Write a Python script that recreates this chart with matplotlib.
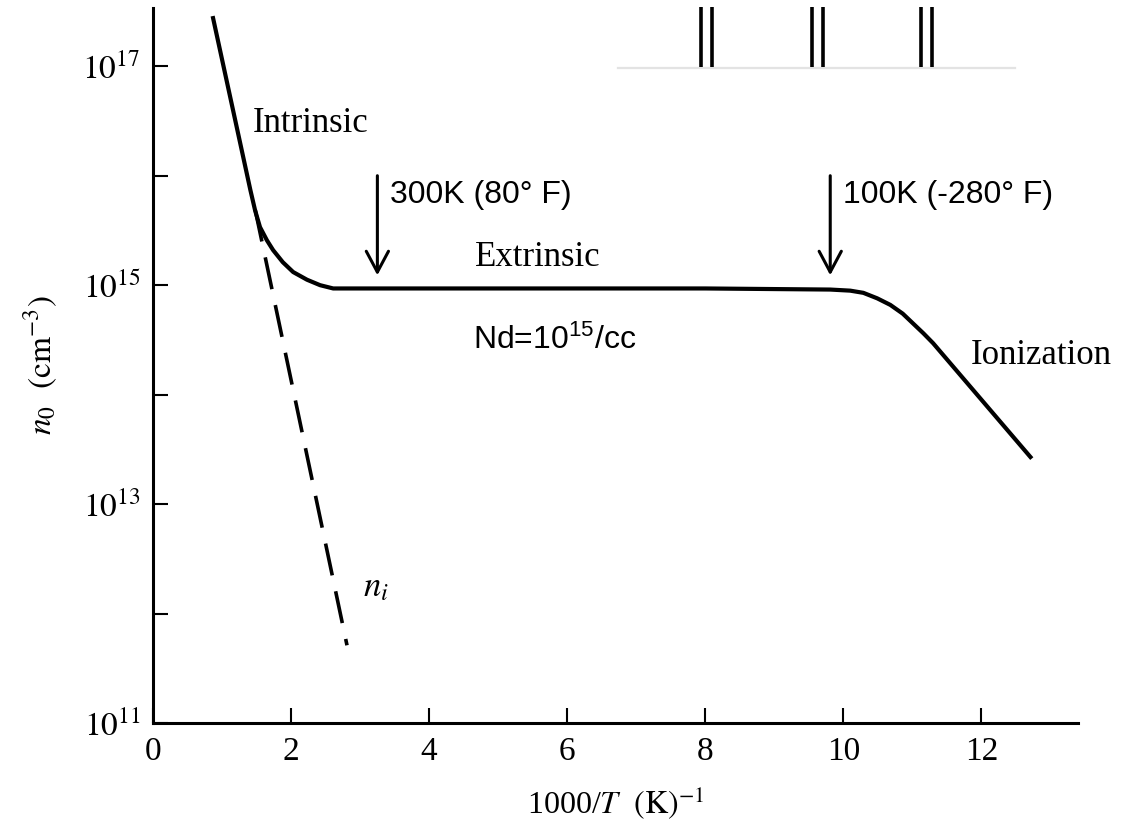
"""Carrier concentration vs inverse temperature (n-type Si, Nd = 1e15/cc)."""

import matplotlib
matplotlib.use("Agg")
import matplotlib.pyplot as plt
import numpy as np

# ---------------------------------------------------------------------------
# Data
# ---------------------------------------------------------------------------
# n0 curve: x = 1000/T, y = log10(n0)
N0_X = [0.87, 1.41, 1.48, 1.55, 1.65, 1.74, 1.88, 2.03, 2.23, 2.42, 2.61, 2.81,
        4.0, 6.0, 8.0, 9.81, 10.10, 10.29, 10.49, 10.68, 10.86, 11.01, 11.16,
        11.30, 12.71]
N0_LOG = [17.44, 15.87, 15.68, 15.53, 15.41, 15.32, 15.21, 15.12, 15.05, 15.00,
          14.97, 14.97, 14.97, 14.97, 14.97, 14.96, 14.95, 14.93, 14.88, 14.82,
          14.74, 14.65, 14.56, 14.47, 13.43]

# intrinsic concentration (dashed)
NI_X = [1.48, 2.81]
NI_LOG = [15.69, 11.71]

# temperature markers: x position, arrow top / bottom (log10)
ARROW_X = [3.25, 9.81]
ARROW_TOP = 16.0
ARROW_BOTTOM = 15.09
ARROW_LABELS = ["300K (80° F)", "100K (-280° F)"]

# stray scale-break marks above the plot
BREAK_X = [7.94, 8.10, 9.54, 9.70, 11.13, 11.29]
BREAK_LINE_X = [6.74, 12.49]

X_TICKS = [0, 2, 4, 6, 8, 10, 12]
Y_MAJOR = [11, 13, 15, 17]
Y_MINOR = [12, 14, 16]

# ---------------------------------------------------------------------------
# Style
# ---------------------------------------------------------------------------
plt.rcParams["font.family"] = ["Liberation Serif", "DejaVu Serif"]
plt.rcParams["mathtext.fontset"] = "stix"
plt.rcParams["mathtext.rm"] = "Liberation Sans"
plt.rcParams["mathtext.it"] = "Liberation Sans:italic"
plt.rcParams["mathtext.bf"] = "Liberation Sans:bold"
SANS = ["Liberation Sans", "DejaVu Sans"]


def main() -> None:
    fig = plt.figure(figsize=(11.21, 8.26), dpi=100)
    ax = fig.add_axes([0.1365, 0.1247, 0.8252, 0.8653])

    ax.set_yscale("log")
    ax.set_xlim(0, 13.4)
    ax.set_ylim(1e11, 10 ** 17.53)

    # curves
    ax.plot(N0_X, 10 ** np.array(N0_LOG), color="black", lw=3.0,
            solid_joinstyle="round")
    ax.plot(NI_X, 10 ** np.array(NI_LOG), color="black", lw=2.6,
            dashes=(9, 4.5))

    # arrows + temperature labels
    for x, lab in zip(ARROW_X, ARROW_LABELS):
        ax.annotate("", xy=(x, 10 ** ARROW_BOTTOM), xytext=(x, 10 ** ARROW_TOP),
                    arrowprops=dict(arrowstyle="->,head_length=1.5,head_width=0.8",
                                    color="black", lw=2.2,
                                    shrinkA=0, shrinkB=0))
        ax.text(x + 0.18, 10 ** 15.82, lab, family=SANS, fontsize=23,
                ha="left", va="center")

    # region labels
    ax.text(1.45, 10 ** 16.48, "Intrinsic", fontsize=25, ha="left", va="center")
    ax.text(4.67, 10 ** 15.25, "Extrinsic", fontsize=25, ha="left", va="center")
    ax.text(11.84, 10 ** 14.36, "Ionization", fontsize=25, ha="left", va="center")
    ax.text(4.64, 10 ** 14.50, r"Nd=10$^{\mathrm{15}}$/cc", family=SANS,
            fontsize=23, ha="left", va="center", math_fontfamily="custom")
    ax.text(3.04, 10 ** 12.24, r"$n_i$", fontsize=25, ha="left", va="center")

    # scale-break marks at the top
    ax.plot(BREAK_LINE_X, [10 ** 16.98] * 2, color="#e3e3e3", lw=1.6,
            clip_on=False)
    for x in BREAK_X:
        ax.plot([x, x], [10 ** 16.99, 10 ** 17.54], color="black", lw=2.6,
                clip_on=False, solid_capstyle="butt")

    # axes
    for side in ("top", "right"):
        ax.spines[side].set_visible(False)
    for side in ("left", "bottom"):
        ax.spines[side].set_linewidth(2.2)

    ax.set_xticks(X_TICKS)
    ax.set_xticklabels([str(t) for t in X_TICKS])
    ax.set_yticks([10.0 ** e for e in Y_MAJOR])
    ax.set_yticklabels([rf"$\mathrm{{10}}^{{{e}}}$" for e in Y_MAJOR])
    ax.set_yticks([10.0 ** e for e in Y_MINOR], minor=True)
    ax.yaxis.set_minor_formatter(plt.NullFormatter())
    ax.xaxis.set_minor_locator(plt.NullLocator())

    ax.tick_params(axis="both", which="both", direction="in", length=11,
                   width=1.5, labelsize=24, pad=9)
    ax.tick_params(axis="x", pad=10)

    ax.set_xlabel(r"1000/$T$  $\mathrm{(K)}^{-1}$", fontsize=23, labelpad=12)
    ax.set_ylabel(r"$n_0$  $\mathrm{(cm}^{-3}\mathrm{)}$", fontsize=24, labelpad=16)

    fig.savefig("out.png", dpi=100)
    plt.close(fig)


if __name__ == "__main__":
    main()
